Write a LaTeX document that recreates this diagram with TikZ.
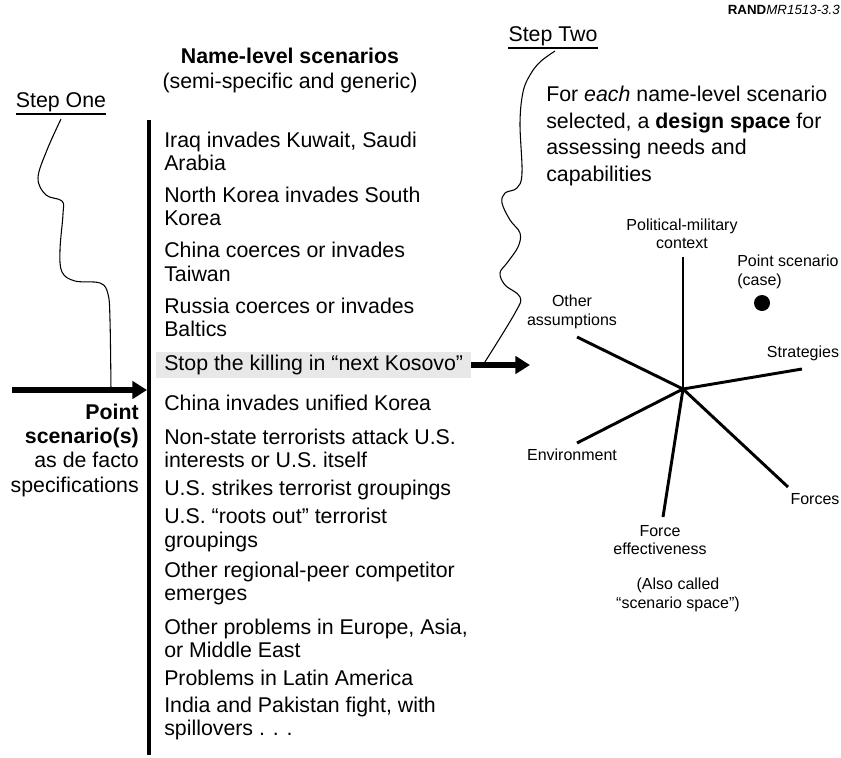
\documentclass[tikz,border=0pt]{standalone}
\usepackage{fontspec}
\setmainfont{Liberation Sans}
\usetikzlibrary{positioning,arrows.meta}

\tikzset{
  item/.style={anchor=west, align=left, inner sep=0pt, font=\fontsize{16}{17.6}\selectfont},
  bigtext/.style={inner sep=0pt, font=\fontsize{16}{18.75}\selectfont},
  small/.style={align=center, inner sep=0pt, font=\fontsize{12}{13.75}\selectfont},
  steplabel/.style={inner xsep=0pt, inner ysep=1.5pt, font=\fontsize{16}{18}\selectfont},
  axis/.style={line width=2.2pt},
  wiggle/.style={line width=0.8pt},
  bigarrow/.style={line width=3.8pt, -{Triangle[length=11pt,width=13pt]}},
}

\begin{document}
\begin{tikzpicture}[x=0.75pt,y=-0.75pt]
  \useasboundingbox (0,0) rectangle (841,757);

  % headings
  \node[anchor=east, inner sep=0pt, font=\fontsize{10}{12}\selectfont] (rand) at (840,10) {\textbf{RAND}\textit{MR1513-3.3}};
  \node[bigtext, align=center] (name) at (290,70) {\textbf{Name-level scenarios}\\(semi-specific and generic)};
  \node[steplabel] (stepone) at (61,102) {Step One};
  \draw[line width=0.9pt] (stepone.south west) -- (stepone.south east);
  \node[steplabel] (steptwo) at (553,36) {Step Two};
  \draw[line width=0.9pt] (steptwo.south west) -- (steptwo.south east);
  \node[bigtext, anchor=west, align=left, font=\fontsize{16}{20}\selectfont] (design) at (546,136)
    {For \textit{each} name-level scenario\\selected, a \textbf{design space} for\\assessing needs and\\capabilities};
  \node[bigtext, anchor=east, align=right, font=\fontsize{16}{18.25}\selectfont] (point) at (139,450)
    {\textbf{Point}\\\textbf{scenario(s)}\\as de facto\\specifications};

  % list of name-level scenarios
  \draw[line width=3pt] (149,120) -- (149,755);
  \foreach \i/\y/\txt in {
    1/151.5/{Iraq invades Kuwait, Saudi\\Arabia},
    2/206.5/{North Korea invades South\\Korea},
    3/262/{China coerces or invades\\Taiwan},
    4/317.5/{Russia coerces or invades\\Baltics},
    6/403/{China invades unified Korea},
    7/448.5/{Non-state terrorists attack U.S.\\interests or U.S. itself},
    8/490/{U.S. strikes terrorist groupings},
    9/530/{U.S. “roots out” terrorist\\groupings},
    10/583.5/{Other regional-peer competitor\\emerges},
    11/638.5/{Other problems in Europe, Asia,\\or Middle East},
    12/678/{Problems in Latin America},
    13/718.5/{India and Pakistan fight, with\\spillovers . . .}}
    \node[item] (s\i) at (164,\y) {\txt};
  \node[item, fill=gray!18, inner xsep=6pt, inner ysep=2.25pt] (s5) at (156,365) {Stop the killing in “next Kosovo”};

  % arrows
  \coordinate (tail) at (12,390);
  \coordinate (barhit) at (147,390);
  \draw[bigarrow] (tail) -- (barhit);
  \coordinate (space) at (530,365);
  \draw[bigarrow] (s5.east) -- (space);

  % step curves
  \draw[wiggle] plot[smooth, tension=0.6] coordinates {(61,119) (47,150) (38,178) (46,195) (62,201) (63,214) (60,250) (62,272) (75,281) (100,283) (108,294) (110,320) (111,390)};
  \draw[wiggle] plot[smooth, tension=0.6] coordinates {(555,51) (540,62) (530,75) (523,92) (520,123) (522,173) (517,188) (505,193) (502,203) (510,220) (520,233) (518,247) (507,263) (500,273) (505,285) (520,297) (515,313) (483,365)};

  % design space
  \coordinate (ctr) at (683,389);
  \coordinate (pm) at (683,257);
  \coordinate (oa) at (577,337);
  \coordinate (st) at (802,369);
  \coordinate (en) at (577,443);
  \coordinate (fe) at (663,517);
  \coordinate (fo) at (788,487);
  \foreach \e in {pm,oa,st,en,fe,fo}
    \draw[axis] (ctr) -- (\e);
  \node[small] (lpm) at (682,234) {Political-military\\context};
  \node[small, anchor=west, align=left] (lps) at (737,272) {Point scenario\\(case)};
  \node[circle, fill, inner sep=0pt, minimum size=12pt] (dot) at (762,303) {};
  \node[small] (loa) at (572,312) {Other\\assumptions};
  \node[small] (lst) at (803,353) {Strategies};
  \node[small] (len) at (572,455) {Environment};
  \node[small] (lfo) at (815,499) {Forces};
  \node[small] (lfe) at (660,540) {Force\\effectiveness};
  \node[small] (also) at (678,595) {(Also called\\“scenario space”)};
\end{tikzpicture}
\end{document}
